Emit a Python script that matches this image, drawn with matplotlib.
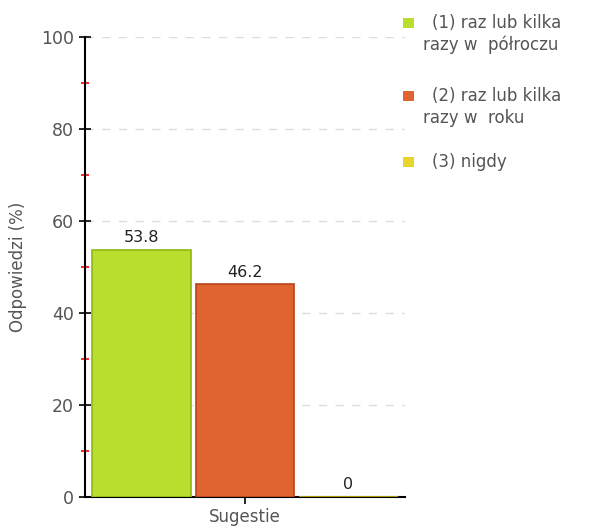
import matplotlib
matplotlib.use("Agg")
import matplotlib.pyplot as plt
from matplotlib.patches import Rectangle
import numpy as np

# Data
category = 'Sugestie'
legend_lines = [['(1) raz lub kilka', 'razy w  półroczu'],
                ['(2) raz lub kilka', 'razy w  roku'],
                ['(3) nigdy']]
values = [53.8, 46.2, 0]
value_texts = ['53.8', '46.2', '0']
colors = ['#bade2e', '#e0642f', '#e8d52c']
edges = ['#8fb812', '#b8441a', '#c9b410']

plt.rcParams['font.family'] = ['DejaVu Sans']

W, H = 596, 526
fig = plt.figure(figsize=(W / 100, H / 100), dpi=100)
ax = fig.add_axes([85 / W, 29 / H, 320 / W, 460 / H])

offsets = np.array([-1.0, 0.0, 1.0])
for off, v, c, e in zip(offsets, values, colors, edges):
    ax.bar(off, v, width=0.95, color=c, edgecolor=e, linewidth=1.2, zorder=3)
for off, v, t in zip(offsets, values, value_texts):
    ax.text(off, v + 1.0, t, ha='center', va='bottom', fontsize=11.5,
            color='#222222', zorder=4)

ax.set_xlim(-1.546, 1.546)
ax.set_ylim(0, 100)
ax.set_xticks([0])
ax.set_xticklabels([category], fontsize=12, color='#555555')
ax.set_yticks(np.arange(0, 101, 20))
ax.set_yticks(np.arange(10, 100, 20), minor=True)
ax.tick_params(axis='y', which='major', direction='inout', length=8,
               width=1.2, labelsize=12.5, labelcolor='#555555', pad=4)
ax.tick_params(axis='y', which='minor', direction='inout', length=6,
               width=1.2, color='red')
ax.tick_params(axis='x', direction='out', length=5, width=1.2,
               labelcolor='#555555', pad=3)
ax.set_ylabel('Odpowiedzi (%)', fontsize=12, color='#555555', labelpad=10)
ax.yaxis.grid(True, which='major', linestyle=(0, (6, 6)), color='#dddddd',
              linewidth=1, zorder=0)
ax.set_axisbelow(True)
for s in ['top', 'right']:
    ax.spines[s].set_visible(False)
ax.spines['left'].set_linewidth(1.5)
ax.spines['bottom'].set_linewidth(1.5)

# legend drawn by hand: square aligned with the first line of each label
entry_y = [23, 96, 162]
for y, lines, c in zip(entry_y, legend_lines, colors):
    fig.patches.append(Rectangle(((403) / W, 1 - (y + 5) / H), 11 / W, 10 / H,
                                 transform=fig.transFigure, facecolor=c,
                                 edgecolor='none'))
    for i, line in enumerate(lines):
        x = 432 if i == 0 else 423
        fig.text(x / W, 1 - (y + i * 22) / H, line, fontsize=12,
                 color='#555555', va='center', ha='left')

fig.savefig('out.png', dpi=100)
